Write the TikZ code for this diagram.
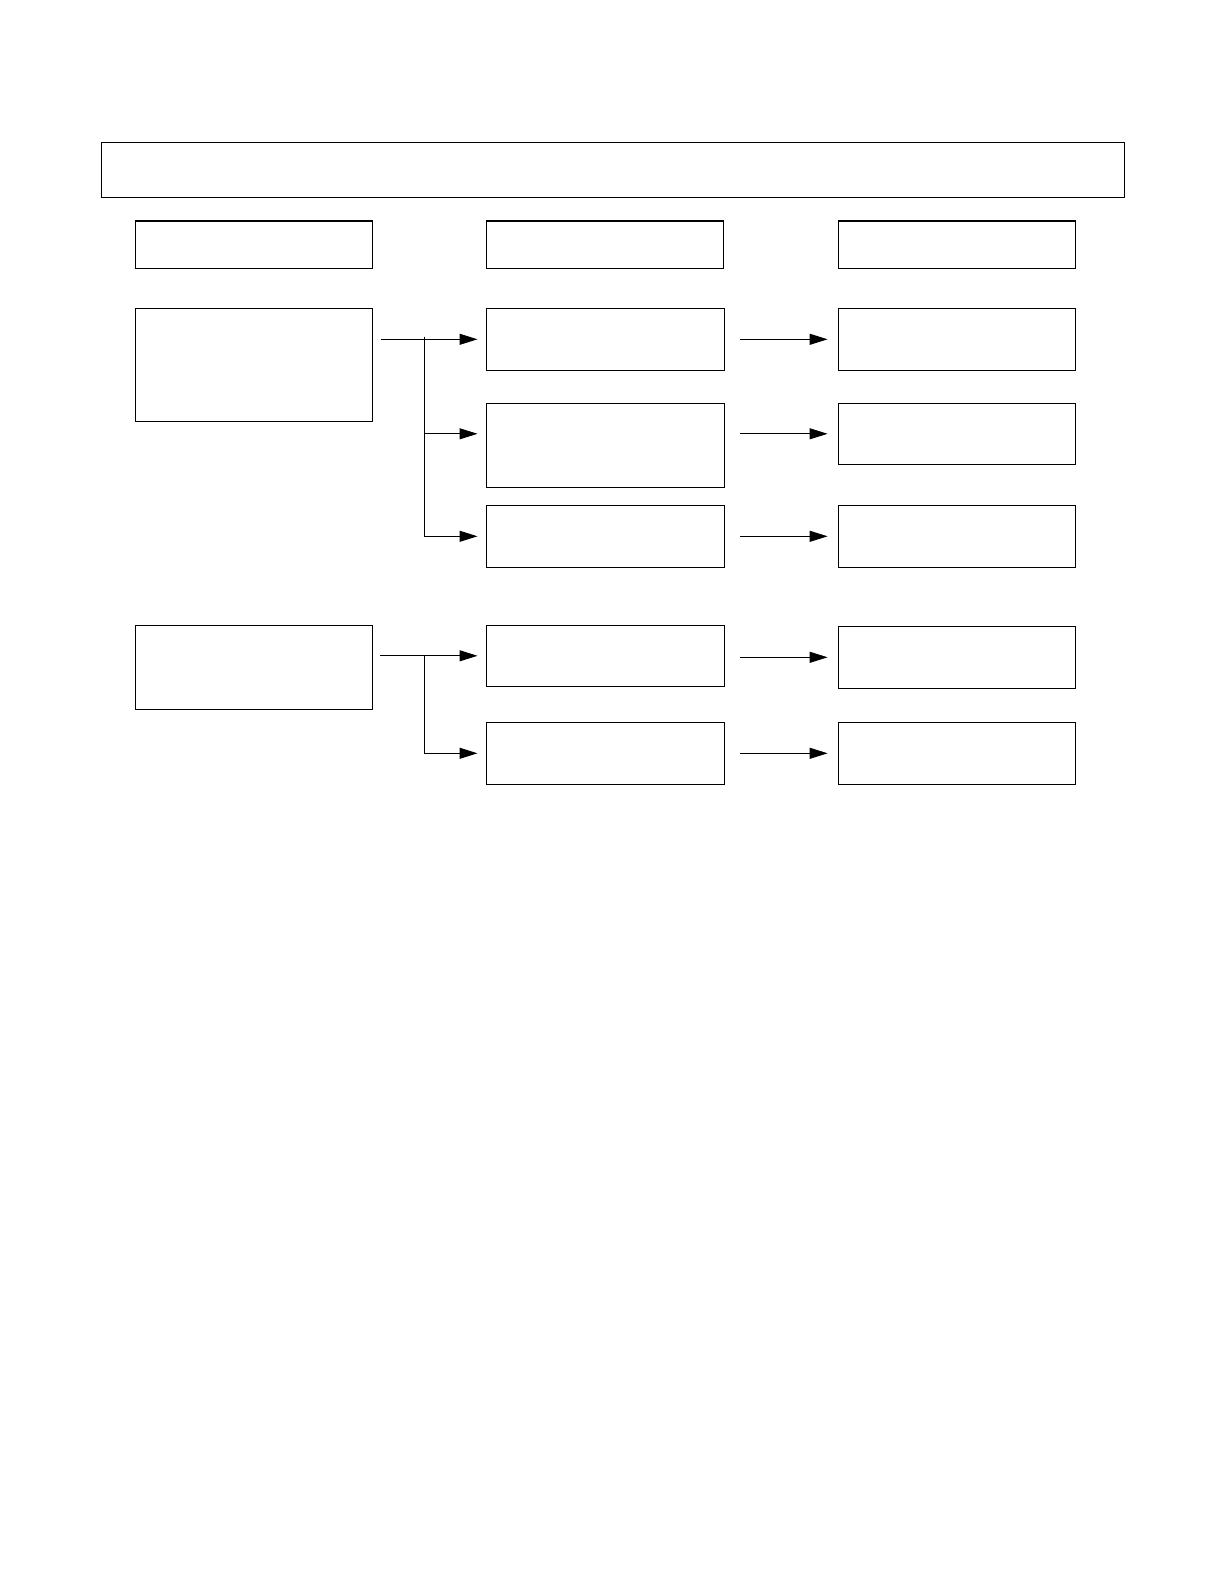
\documentclass[tikz,border=0pt]{standalone}
\usetikzlibrary{arrows.meta}
\tikzset{
  box/.style={draw, line width=1.2pt, inner sep=0pt, outer sep=0pt, anchor=north west},
  arr/.style={-{Triangle[length=18pt,width=11pt]}, line width=1pt},
  lrarr/.style={arr, shorten <=8pt, shorten >=8.7pt},
  brarr/.style={arr, shorten >=8.7pt},
  mrarr/.style={arr, shorten <=15.5pt, shorten >=10.8pt}
}
\newcommand\mybox[5]{\node[box, minimum width=#4pt, minimum height=#5pt] (#1) at (#2,#3) {};}
\begin{document}
\begin{tikzpicture}[x=1pt,y=-1pt]
\useasboundingbox (0,0) rectangle (1224,1586);
% title bar
\mybox{top}{101.3}{142.3}{1023.4}{55}
% column headers
\mybox{h1}{135.3}{221}{237.2}{47.3}
\mybox{h2}{486.3}{221}{237.2}{47.3}
\mybox{h3}{838.4}{221}{237.2}{47.3}
% first group
\mybox{l1}{135.3}{308.3}{237.2}{112.9}
\mybox{m1}{486.2}{308.3}{238.3}{62}
\mybox{r1}{838.4}{308.3}{237.2}{62}
\mybox{m2}{486.2}{403.3}{238.3}{84}
\mybox{r2}{838.4}{403.3}{237.2}{61}
\mybox{m3}{486.2}{505.3}{238.3}{62}
\mybox{r3}{838.4}{505.3}{237.2}{62}
% second group
\mybox{l2}{135.3}{625.3}{237.2}{84}
\mybox{m4}{486.2}{625.3}{238.3}{61}
\mybox{r4}{838.4}{626.3}{237.2}{62}
\mybox{m5}{486.2}{722.3}{238.3}{62}
\mybox{r5}{838.4}{722.3}{237.2}{62}
% connectors, first group
\coordinate (j1) at (424.3,336.7);
\draw[lrarr] (l1.east |- m1.west) -- (m1.west);
\draw[brarr] (j1) |- (m2.west |- r2.west);
\draw[brarr] (j1) |- (m3.west);
\draw[mrarr] (m1.east |- r1.west) -- (r1.west);
\draw[mrarr] (m2.east |- r2.west) -- (r2.west);
\draw[mrarr] (m3.east |- r3.west) -- (r3.west);
% connectors, second group
\coordinate (j2) at (424.3,655.8);
\draw[lrarr, shorten <=7.5pt] (l2.east |- m4.west) -- (m4.west);
\draw[brarr] (j2) |- (m5.west);
\draw[mrarr] (m4.east |- r4.west) -- (r4.west);
\draw[mrarr] (m5.east |- r5.west) -- (r5.west);
\end{tikzpicture}
\end{document}
